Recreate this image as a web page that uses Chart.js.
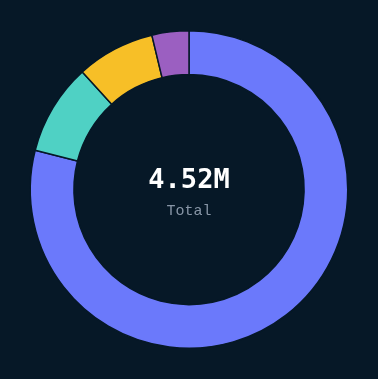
<!DOCTYPE html>
<html>
<head>
<meta charset="utf-8">
<script src="https://cdn.jsdelivr.net/npm/chart.js@4"></script>
<style>
  html, body { margin: 0; padding: 0; background: #061827; }
  #wrap { width: 378px; height: 379px; }
</style>
</head>
<body>
<div id="wrap"><canvas id="donut"></canvas></div>
<script>
// slices, clockwise from 12 o'clock (values in millions)
const labels = ['A', 'B', 'C', 'D'];
const values = [3.57, 0.42, 0.36, 0.17];
const colors = ['#6b79fb', '#4fd1c4', '#f7bf27', '#9b5fc1'];
const totalText = '4.52M';
const subText = 'Total';

const ctx = document.getElementById('donut');

// centre label
const centerText = {
    id: 'centerText',
    afterDraw(chart) {
        const c = chart.ctx;
        const meta = chart.getDatasetMeta(0).data[0];
        const x = meta.x, y = meta.y;
        c.save();
        c.textAlign = 'center';
        c.textBaseline = 'middle';
        c.fillStyle = '#ffffff';
        c.font = 'bold 27px "DejaVu Sans Mono", monospace';
        c.fillText(totalText, x, y - 9);
        c.fillStyle = '#8795a6';
        c.font = '15px "Liberation Mono", monospace';
        c.fillText(subText, x, y + 22);
        c.restore();
    }
};

new Chart(ctx, {
    type: 'doughnut',
    data: {
        labels: labels,
        datasets: [{
            data: values,
            backgroundColor: colors,
            borderColor: '#061827',
            borderWidth: 1.5,
        }]
    },
    options: {
        responsive: true,
        maintainAspectRatio: false,
        animation: false,
        cutout: '72.5%',
        rotation: 0,
        layout: { padding: { left: 29, right: 29, top: 30, bottom: 30 } },
        plugins: {
            legend: { display: false },
            tooltip: { enabled: false }
        }
    },
    plugins: [centerText]
});
</script>
</body>
</html>
